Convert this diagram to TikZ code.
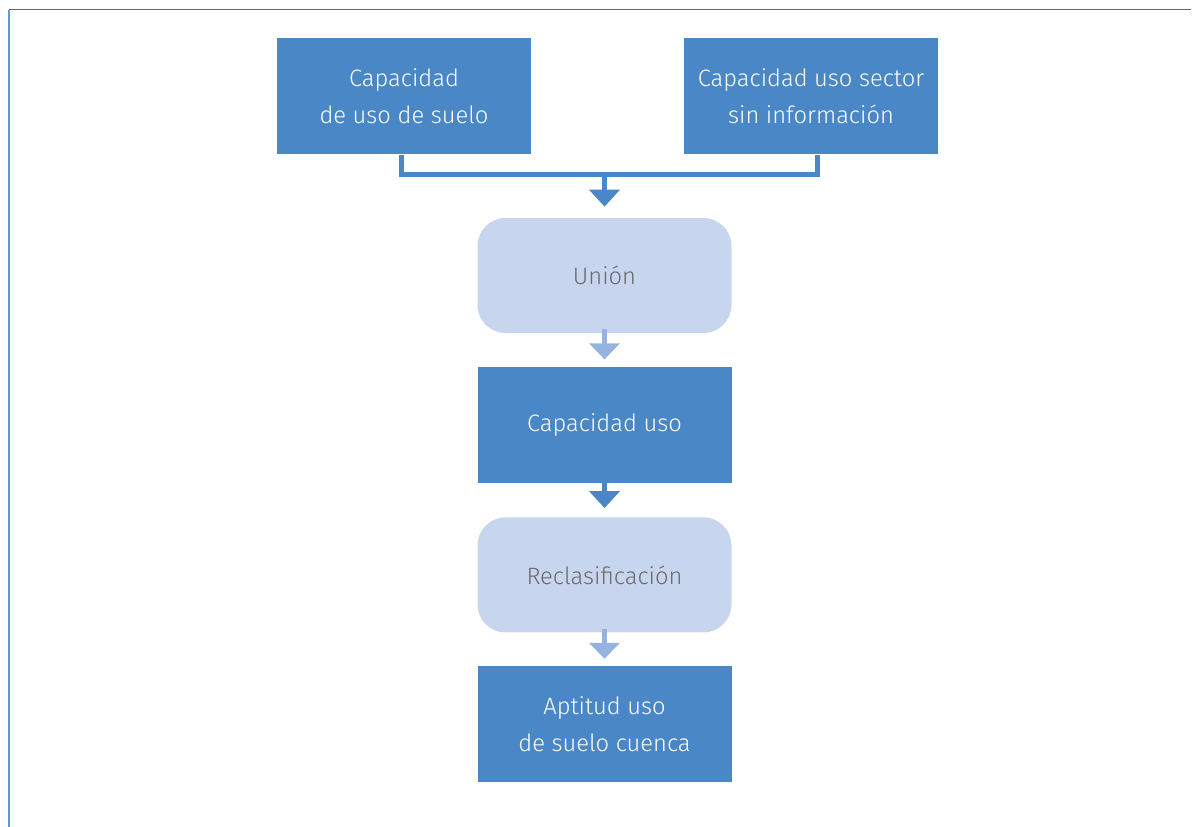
\documentclass[tikz,border=0pt]{standalone}
\usepackage{fontspec}
\setmainfont{Fira Sans Light}
\usetikzlibrary{arrows.meta,positioning,calc}
\definecolor{BoxBlue}{HTML}{4A87C7}
\definecolor{PaleBlue}{HTML}{C7D5EE}
\definecolor{SoftBlue}{HTML}{96B2DE}
\definecolor{FrameBlue}{HTML}{2E75B6}
\definecolor{FrameLight}{HTML}{5B9BD5}
\definecolor{TextGrey}{HTML}{6B6B6B}

\begin{document}
\begin{tikzpicture}[
    font=\fontsize{13.5}{21}\selectfont,
    darkbox/.style={fill=BoxBlue, text=white, minimum width=5.08cm, minimum height=2.32cm, align=center, inner sep=0pt},
    palebox/.style={fill=PaleBlue, text=TextGrey, rounded corners=0.56cm, minimum width=5.08cm, minimum height=2.3cm, align=center, inner sep=0pt},
    darkline/.style={draw=BoxBlue, line width=0.1cm},
    darkarrow/.style={darkline, -{Triangle[width=0.6cm,length=0.34cm]}},
    softarrow/.style={draw=SoftBlue, line width=0.1cm, -{Triangle[width=0.6cm,length=0.32cm]}}
  ]
  \useasboundingbox (0,0) rectangle (23.86,-16.54);
  \draw[FrameBlue, line width=0.03cm] (0.18,-0.19) -- (23.82,-0.19);
  \draw[FrameLight, line width=0.03cm] (0.18,-0.19) -- (0.18,-16.54);

  \node[palebox] (union) at (12.09,-5.51) {Unión};
  \node[darkbox, above=1.26cm of union, xshift=-4.01cm] (suelo) {Capacidad\\de uso de suelo};
  \node[darkbox, above=1.26cm of union, xshift=4.13cm] (sector) {Capacidad uso sector\\sin información};
  \node[darkbox, below=0.66cm of union] (uso) {Capacidad uso};
  \node[palebox, below=0.68cm of uso] (reclas) {Reclasificación};
  \node[darkbox, below=0.66cm of reclas] (aptitud) {Aptitud uso\\de suelo cuenca};

  \coordinate[above=0.86cm of union] (join);
  \draw[darkline] ([xshift=-0.06cm]suelo.south) |- (join) -| ([xshift=0.12cm]sector.south);
  \draw[darkarrow] (join) -- ([yshift=0.22cm]union.north);
  \draw[softarrow] ([yshift=0.08cm]union.south) -- ([yshift=0.14cm]uso.north);
  \draw[darkarrow] (uso.south) -- ([yshift=0.18cm]reclas.north);
  \draw[softarrow] ([yshift=0.08cm]reclas.south) -- ([yshift=0.14cm]aptitud.north);
\end{tikzpicture}
\end{document}
